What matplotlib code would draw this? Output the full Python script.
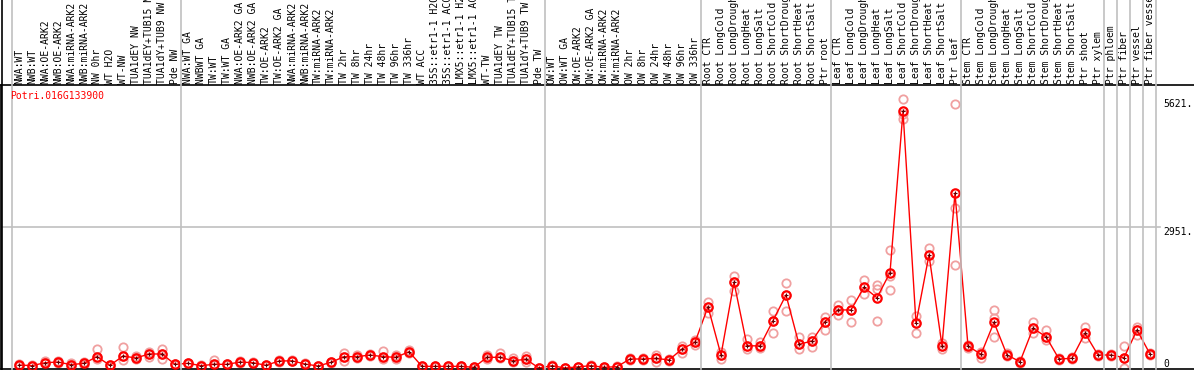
#!/usr/bin/env python3

import matplotlib
matplotlib.use("Agg")
import matplotlib.pyplot as plt
from matplotlib.lines import Line2D
from matplotlib.transforms import blended_transform_factory

gene_id = "Potri.016G133900"

sample_labels = [
    "NWA:WT", "NWB:WT", "NWA:OE-ARK2", "NWB:OE-ARK2", "NWA:miRNA-ARK2",
    "NWB:miRNA-ARK2", "NW 0hr", "WT H2O", "WT-NW", "TUA1dEY NW",
    "TUA1dEY+TUB15 NW", "TUA1dY+TUB9 NW", "Pde NW",
    "NWA:WT GA", "NWBWT GA", "TW:WT", "TW:WT GA", "NWA:OE-ARK2 GA",
    "NWB:OE-ARK2 GA", "TW:OE-ARK2", "TW:OE-ARK2 GA", "NWA:miRNA-ARK2",
    "NWB:miRNA-ARK2", "TW:miRNA-ARK2", "TW:miRNA-ARK2", "TW 2hr", "TW 8hr",
    "TW 24hr", "TW 48hr", "TW 96hr", "TW 336hr", "WT ACC",
    "35S::etr1-1 H2O", "35S::etr1-1 ACC", "LMX5::etr1-1 H2O",
    "LMX5::etr1-1 ACC", "WT-TW", "TUA1dEY TW", "TUA1dEY+TUB15 TW",
    "TUA1dY+TUB9 TW", "Pde TW",
    "OW:WT", "OW:WT GA", "OW:OE-ARK2", "OW:OE-ARK2 GA", "OW:miRNA-ARK2",
    "OW:miRNA-ARK2", "OW 2hr", "OW 8hr", "OW 24hr", "OW 48hr", "OW 96hr",
    "OW 336hr",
    "Root CTR", "Root LongCold", "Root LongDrought", "Root LongHeat",
    "Root LongSalt", "Root ShortCold", "Root ShortDrought", "Root ShortHeat",
    "Root ShortSalt", "Ptr root",
    "Leaf CTR", "Leaf LongCold", "Leaf LongDrought", "Leaf LongHeat",
    "Leaf LongSalt", "Leaf ShortCold", "Leaf ShortDrought", "Leaf ShortHeat",
    "Leaf ShortSalt", "Ptr leaf",
    "Stem CTR", "Stem LongCold", "Stem LongDrought", "Stem LongHeat",
    "Stem LongSalt", "Stem ShortCold", "Stem ShortDrought", "Stem ShortHeat",
    "Stem ShortSalt", "Ptr shoot",
    "Ptr xylem", "Ptr phloem", "Ptr fiber", "Ptr vessel", "Ptr fiber vessel",
]

# separator lines come after these sample indices (-1 = before the first)
group_ends = [-1, 12, 40, 52, 62, 72, 83, 84, 85, 86, 87]

expr_mean = [
    83, 70, 130, 145, 90, 118, 256, 76, 270, 229, 312, 312, 97,
    118, 70, 97, 97, 145, 131, 76, 166, 170, 104, 62, 139, 256, 256,
    291, 256, 243, 360, 55, 55, 55, 55, 35, 243, 243, 173, 201, 20,
    69, 20, 45, 69, 35, 48, 208, 208, 222, 187, 416, 555,
    1296, 291, 1803, 485, 478, 1005, 1539, 513, 582, 984,
    1227, 1227, 1699, 1480, 2004, 5352, 950, 2371, 485, 3654,
    478, 305, 970, 291, 152, 845, 672, 208, 222, 742,
    291, 291, 236, 811, 312,
]

expr_reps = [
    [95, 83, 72], [80, 70, 60], [167, 130, 118], [167, 145, 118],
    [125, 90, 70], [150, 118, 80], [410, 256, 200], [85, 76, 68],
    [465, 270, 188], [271, 229, 202], [361, 312, 250], [417, 312, 202],
    [110, 97, 85],
    [130, 118, 105], [80, 70, 60], [181, 97, 90], [110, 97, 85],
    [160, 145, 130], [145, 131, 120], [90, 76, 65], [180, 166, 150],
    [185, 170, 160], [115, 104, 95], [70, 62, 55], [150, 139, 125],
    [327, 256, 167], [300, 256, 230], [313, 291, 270], [382, 256, 200],
    [292, 243, 200], [396, 360, 327], [60, 55, 50], [60, 55, 50],
    [60, 55, 50], [60, 55, 50], [40, 35, 30], [292, 243, 200],
    [327, 243, 220], [223, 173, 140], [271, 201, 150], [25, 20, 15],
    [75, 69, 60], [25, 20, 15], [50, 45, 40], [75, 69, 60], [40, 35, 30],
    [55, 48, 40], [220, 208, 195], [225, 208, 195], [292, 222, 153],
    [200, 187, 175], [470, 416, 341], [600, 555, 500],
    [1383, 1296, 1162], [361, 291, 202], [1940, 1803, 1613],
    [619, 485, 410], [570, 478, 431], [1210, 1005, 744],
    [1787, 1539, 1210], [660, 513, 417], [660, 582, 466],
    [1077, 984, 813],
    [1335, 1227, 1126], [1439, 1227, 967], [1857, 1699, 1564],
    [1738, 1669, 1001], [2482, 1940, 1648], [5621, 5300, 5194],
    [1105, 950, 744], [2517, 2371, 2238], [535, 485, 410],
    [5507, 3352, 2169],
    [500, 478, 440], [362, 305, 236], [1231, 1057, 660], [327, 291, 260],
    [170, 152, 130], [967, 845, 744], [813, 672, 605], [230, 208, 190],
    [250, 222, 200], [870, 742, 640],
    [310, 291, 260], [320, 291, 260], [480, 236, 15], [883, 811, 709],
    [330, 312, 290],
]

ytick_values = [5621, 2951, 0]
ytick_labels = ["5621.", "2951.", "0"]

MONO = "DejaVu Sans Mono"
W, H = 1194, 370


def main():
    fig = plt.figure(figsize=(W / 100, H / 100), dpi=100)
    fig.patch.set_facecolor("white")

    # plot box: 85 px from top down to 369 px
    ax = fig.add_axes([1 / W, 1 / H, (W - 1) / W, 284 / H])
    step = 13.0
    x0 = -18 / step
    ax.set_xlim(x0, x0 + (W - 1) / step)
    ymax = max(max(r) for r in expr_reps)
    ax.set_ylim(0, ymax * 1.05)

    for side in ["left", "bottom", "top"]:
        ax.spines[side].set_color("black")
        ax.spines[side].set_linewidth(1.2)
    ax.spines["right"].set_visible(False)
    ax.set_xticks([])
    ax.set_yticks([])

    # mid grid line
    ax.axhline(ytick_values[1], xmin=0, xmax=1160 / W, color="#c0c0c0", lw=1.2, zorder=1)

    xs = list(range(len(sample_labels)))
    bt = blended_transform_factory(ax.transData, fig.transFigure)

    # group separators, over the header too
    for e in group_ends:
        fig.add_artist(Line2D([e + 0.5, e + 0.5], [1 / H, 1.0], transform=bt,
                              color="#c0c0c0", lw=1.2, zorder=1))
    fig.add_artist(Line2D([1.5 / W, 1.5 / W], [1 / H, 1.0], color="black", lw=1.2))

    # replicates
    for i, reps in enumerate(expr_reps):
        ax.plot([i] * len(reps), reps, "o", ms=6, mfc="none", mec="#f0a0a0",
                mew=1.3, clip_on=False, zorder=2)

    # mean
    ax.plot(xs, expr_mean, "-", color="#ff0000", lw=1.0, zorder=3, clip_on=False)
    ax.plot(xs, expr_mean, "o", ms=6, mfc="none", mec="#ff0000", mew=1.6,
            zorder=4, clip_on=False)
    ax.plot(xs, expr_mean, "+", ms=3, color="#600000", mew=0.8, zorder=5,
            clip_on=False)

    # header labels
    for i, lab in enumerate(sample_labels):
        ax.text(i, (H - 84) / H, lab, transform=bt, rotation=90, ha="center",
                va="bottom", fontsize=7, family=MONO, color="black",
                clip_on=False)

    fig.text(10 / W, 1 - 91 / H, gene_id, color="#ff0000", fontsize=7,
             family=MONO, ha="left", va="top")

    # value labels on the right
    yt = blended_transform_factory(fig.transFigure, ax.transData)
    for v, lab in zip(ytick_values, ytick_labels):
        ax.text(1163 / W, v, lab, transform=yt, fontsize=7, family=MONO,
                ha="left", va="bottom" if v == 0 else "top", clip_on=False)

    fig.savefig("out.png", dpi=100)


if __name__ == '__main__':
    main()
